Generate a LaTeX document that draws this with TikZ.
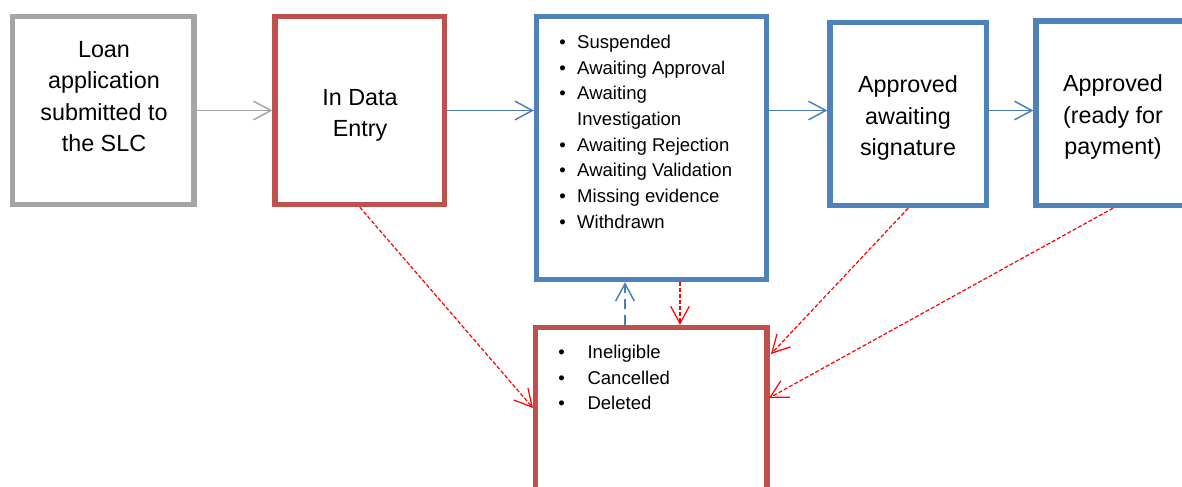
\documentclass[tikz,border=0pt]{standalone}
\usepackage{fontspec}
\setmainfont{Liberation Sans}
\usetikzlibrary{arrows.meta}

\definecolor{boxgrey}{HTML}{A5A5A5}
\definecolor{boxred}{HTML}{C0504D}
\definecolor{boxblue}{HTML}{4F81BD}
\definecolor{flowblue}{HTML}{4A7EBB}

\tikzset{
  stagebox/.style={draw, line width=4pt, inner sep=0pt},
  stagetext/.style={inner sep=0pt, align=center, font=\fontsize{17.5}{23.6}\selectfont},
  listtext/.style={inner sep=0pt, anchor=base west, font=\fontsize{13.9}{19.3}\selectfont},
  flow/.style={line width=1.1pt, -{Straight Barb[length=13pt,width=14pt]}},
  dropflow/.style={flow, line width=0.9pt, red, dash pattern=on 3pt off 1.5pt},
}

\begin{document}
\begin{tikzpicture}[x=0.75pt,y=-0.75pt]
	\path[use as bounding box, clip] (0,0) rectangle (1182,486);

	% the stages
	\node[stagebox, draw=boxgrey, minimum width=136.1pt, minimum height=141pt] (loan) at (103.25,110.5) {};
	\node[stagebox, draw=boxred, minimum width=127.1pt, minimum height=141pt] (entry) at (359.75,110.5) {};
	\node[stagebox, draw=boxblue, minimum width=172.5pt, minimum height=197.25pt] (list) at (651.5,148) {};
	\node[stagebox, draw=boxblue, minimum width=117.4pt, minimum height=137.25pt] (approve) at (908.25,114) {};
	\node[stagebox, draw=boxblue, minimum width=115.5pt, minimum height=138.4pt] (pay) at (1113,113.25) {};
	\node[stagebox, draw=boxred, minimum width=173.6pt, minimum height=159.4pt] (cancel) at (651.25,433.75) {};

	\node[stagetext] (loantext) at (104,96.7) {Loan\\application\\submitted to\\the SLC};
	\node[stagetext] (entrytext) at (360,115.2) {In Data\\Entry};
	\node[stagetext] (approvetext) at (908,118) {Approved\\awaiting\\signature};
	\node[stagetext] (paytext) at (1113,117) {Approved\\(ready for\\payment)};

	\node[listtext] (listitems) at (559,48.3) {\begin{tabular}[t]{@{}l@{\hspace{8.6pt}}l@{}}
		\textbullet & Suspended\\
		\textbullet & Awaiting Approval\\
		\textbullet & Awaiting\\
		 & Investigation\\
		\textbullet & Awaiting Rejection\\
		\textbullet & Awaiting Validation\\
		\textbullet & Missing evidence\\
		\textbullet & Withdrawn
	\end{tabular}};
	\node[listtext] (cancelitems) at (558,358.3) {\begin{tabular}[t]{@{}l@{\hspace{17.1pt}}l@{}}
		\textbullet & Ineligible\\
		\textbullet & Cancelled\\
		\textbullet & Deleted
	\end{tabular}};

	% forward arrows
	\draw[flow, boxgrey] (loan.east) -- (entry.west);
	\draw[flow, flowblue] (entry.east) -- (entry.east -| list.west);
	\draw[flow, flowblue] (entry.east -| list.east) -- (entry.east -| approve.west);
	\draw[flow, flowblue] (entry.east -| approve.east) -- (entry.east -| pay.west);

	% back and drop arrows
	\coordinate (backx) at (625,0);
	\coordinate (dropx) at (680,0);
	\coordinate (hitA) at (533,408);
	\coordinate (hitB) at (771,354);
	\coordinate (hitC) at (769,398);
	\draw[flow, flowblue, dash pattern=on 7.5pt off 4.5pt] (cancel.north -| backx) -- (list.south -| backx);
	\draw[dropflow] (list.south -| dropx) -- (cancel.north -| dropx);
	\draw[dropflow] (entry.south) -- (hitA);
	\draw[dropflow] (approve.south) -- (hitB);
	\draw[dropflow] (pay.south) -- (hitC);
\end{tikzpicture}
\end{document}
